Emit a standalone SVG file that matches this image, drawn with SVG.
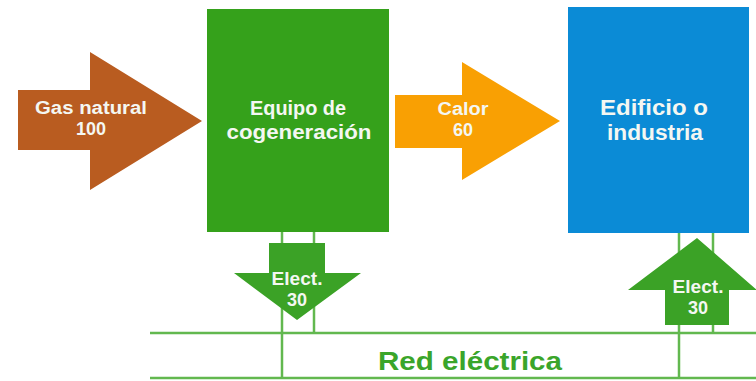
<svg xmlns="http://www.w3.org/2000/svg" width="756" height="381" viewBox="0 0 756 381">
<style>
.t{font-family:"Liberation Sans",Arial,sans-serif;font-weight:bold;fill:#f4f7f2;text-anchor:middle}
.ln{stroke:#62b84f;stroke-width:2.5;fill:none}
.ga{fill:#3ba226}
</style>
<rect width="756" height="381" fill="#ffffff"/>
<g id="connectors">
<line class="ln" x1="150" y1="333" x2="756" y2="333"/>
<line class="ln" x1="150" y1="378" x2="756" y2="378"/>
<line class="ln" x1="282" y1="232" x2="282" y2="378"/>
<line class="ln" x1="314" y1="232" x2="314" y2="333"/>
<line class="ln" x1="679" y1="232" x2="679" y2="378"/>
<line class="ln" x1="713" y1="232" x2="713" y2="333"/>
</g>
<g id="gas">
<polygon points="18,90 90,90 90,52 202,121 90,190 90,150 18,150" fill="#b95c20"/>
<text class="t" x="91" y="114" font-size="18" textLength="112" lengthAdjust="spacingAndGlyphs">Gas natural</text>
<text class="t" x="91" y="135" font-size="18">100</text>
</g>
<g id="cogen">
<rect x="207" y="9" width="182" height="223" fill="#35a11b"/>
<text class="t" x="298" y="115" font-size="21" textLength="96" lengthAdjust="spacingAndGlyphs">Equipo de</text>
<text class="t" x="299" y="139" font-size="21" textLength="145" lengthAdjust="spacingAndGlyphs">cogeneración</text>
</g>
<g id="calor">
<polygon points="395,95 462,95 462,62 560,121 462,180 462,148 395,148" fill="#f9a003"/>
<text class="t" x="463" y="115" font-size="18" textLength="51" lengthAdjust="spacingAndGlyphs">Calor</text>
<text class="t" x="463" y="136" font-size="18">60</text>
</g>
<g id="edificio">
<rect x="568" y="7" width="181" height="226" fill="#0b8bd6"/>
<text class="t" x="654" y="115" font-size="22" textLength="108" lengthAdjust="spacingAndGlyphs">Edificio o</text>
<text class="t" x="655" y="140" font-size="22" textLength="96" lengthAdjust="spacingAndGlyphs">industria</text>
</g>
<g id="elect-out">
<polygon class="ga" points="269,243 325,243 325,273 361,273 297,320 234,273 269,273"/>
<text class="t" x="297" y="285" font-size="18" textLength="51" lengthAdjust="spacingAndGlyphs">Elect.</text>
<text class="t" x="297" y="306" font-size="18">30</text>
</g>
<g id="elect-in">
<polygon class="ga" points="697,238 757,290 729,290 729,325 665,325 665,290 628,290"/>
<text class="t" x="698" y="293" font-size="18" textLength="51" lengthAdjust="spacingAndGlyphs">Elect.</text>
<text class="t" x="698" y="314" font-size="18">30</text>
</g>
<g id="red">
<text x="470" y="370" font-family="Liberation Sans,Arial,sans-serif" font-weight="bold" font-size="25" fill="#3aa52a" text-anchor="middle" textLength="184" lengthAdjust="spacingAndGlyphs">Red eléctrica</text>
</g>
</svg>
